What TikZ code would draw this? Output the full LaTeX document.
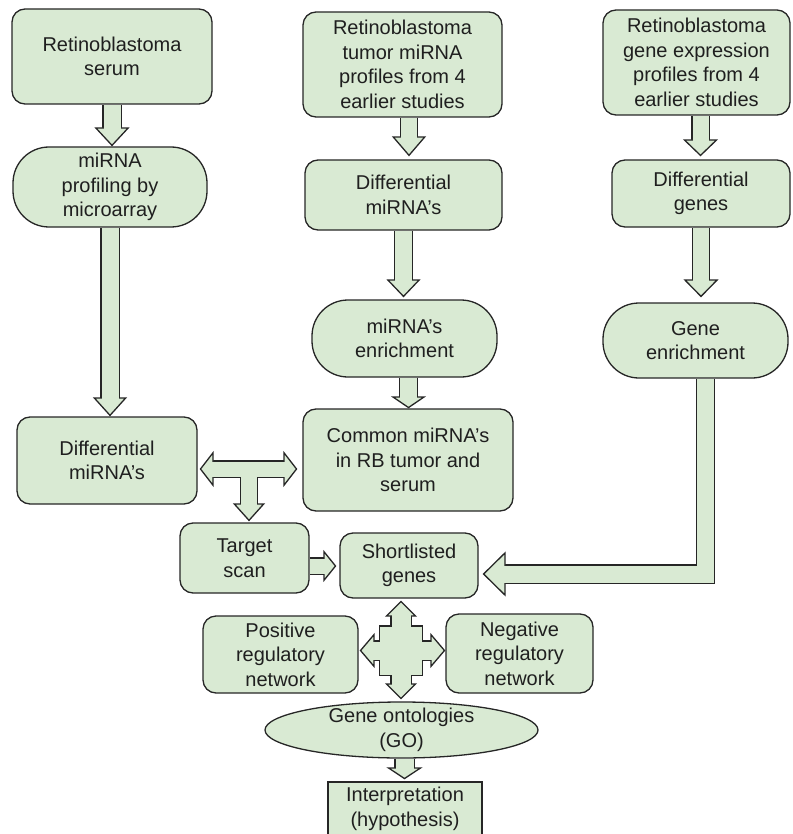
\documentclass[tikz,border=0pt]{standalone}
\usepackage{fontspec}
\setmainfont{Liberation Sans}
\usetikzlibrary{arrows.meta,shapes.geometric,backgrounds}
\definecolor{boxfill}{HTML}{D9EAD3}
\definecolor{linec}{HTML}{262626}
\definecolor{textc}{HTML}{1F1F1F}
\tikzset{
  box/.style={draw=linec, fill=boxfill, line width=1.3pt, rounded corners=13pt,
    align=center, inner sep=0pt, text=textc, font=\fontsize{20}{24.5}\selectfont},
  pill/.style={box, rounded corners=36pt},
  oval/.style={box, sharp corners, ellipse, inner ysep=-4pt},
  plainbox/.style={box, sharp corners},
  blkout/.style n args={3}{draw=linec, line width=#1, line join=miter,
    -{Triangle[width=#2, length=#3, line width=1.3pt, fill=boxfill]}},
  blkboth/.style n args={3}{draw=linec, line width=#1, line join=miter,
    arrows={Triangle[width=#2, length=#3, line width=1.3pt, fill=boxfill]-Triangle[width=#2, length=#3, line width=1.3pt, fill=boxfill]}},
  blkin/.style={draw=boxfill, line width=#1, line join=miter},
}

\begin{document}
\begin{tikzpicture}[x=1pt,y=-1pt]
\useasboundingbox (0,0) rectangle (792,834);
\node (serum)   at (112,56.5)  [box, minimum width=200pt, minimum height=95pt] {Retinoblastoma\\serum};
\node (miprof)  at (110,187)   [pill, minimum width=194pt, minimum height=80pt] {miRNA\\profiling by\\microarray};
\node (diffL)   at (107,460.5) [box, minimum width=180pt, minimum height=87pt] {Differential\\miRNA’s};
\node (tumor)   at (402.5,64.5) [box, minimum width=199pt, minimum height=105pt] {Retinoblastoma\\tumor miRNA\\profiles from 4\\earlier studies};
\node (diffM)   at (403.5,195) [box, minimum width=197pt, minimum height=70pt] {Differential\\miRNA’s};
\node (mienr)   at (404.5,338.5) [pill, minimum width=185pt, minimum height=77pt] {miRNA’s\\enrichment};
\node (common)  at (408,460)   [box, minimum width=210pt, minimum height=102pt] {Common miRNA’s\\in RB tumor and\\serum};
\node (geneexp) at (696.5,62.5) [box, minimum width=187pt, minimum height=105pt] {Retinoblastoma\\gene expression\\profiles from 4\\earlier studies};
\node (diffG)   at (701,193.5) [box, minimum width=178pt, minimum height=67pt] {Differential\\genes};
\node (geneenr) at (695.5,340.5) [pill, minimum width=185pt, minimum height=75pt] {Gene\\enrichment};
\node (target)  at (244.5,558) [box, minimum width=129pt, minimum height=70pt] {Target\\scan};
\node (short)   at (409,565.5) [box, minimum width=138pt, minimum height=65pt] {Shortlisted\\genes};
\node (pos)     at (280.5,654.5) [box, minimum width=155pt, minimum height=77pt] {Positive\\regulatory\\network};
\node (neg)     at (519.5,653.5) [box, minimum width=147pt, minimum height=79pt] {Negative\\regulatory\\network};
\node (go)      at (401.5,730) [oval, minimum width=273pt, minimum height=56pt] {Gene ontologies\\(GO)};
\node (interp)  at (405,809)   [plainbox, minimum width=154pt, minimum height=54pt] {Interpretation\\(hypothesis)};

\coordinate (tumorout) at ([xshift=6.5pt]tumor.south);
\coordinate (mienrout) at ([xshift=4pt]mienr.south);
\coordinate (geneout)  at ([xshift=4pt]geneexp.south);
\coordinate (enrout)   at ([xshift=10pt]geneenr.south);
\coordinate (shortin)  at ([xshift=4pt,yshift=-8.5pt]short.east);
\coordinate (scanout)  at ([yshift=-8pt]target.east);
\coordinate (goout)    at ([xshift=3pt]go.south);
\coordinate (tj) at (249,469);
\coordinate (qc) at (401,650.5);

\begin{scope}[on background layer]
\draw [blkout={19.6pt}{35pt}{19pt}] (serum.south) -- (serum.south |- miprof.north);
\draw [blkout={19.6pt}{34pt}{19pt}] (miprof.south) -- (miprof.south |- diffL.north);
\draw [blkout={18.6pt}{34pt}{20pt}, shorten >=3pt] (tumorout) -- (tumorout |- diffM.north);
\draw [blkout={19.6pt}{34pt}{18pt}, shorten >=2pt] (diffM.south) -- (diffM.south |- mienr.north);
\draw [blkout={19.6pt}{35pt}{12pt}] (mienrout) -- (mienrout |- common.north);
\draw [blkout={18.6pt}{35pt}{17pt}, shorten >=3pt] (geneout) -- (geneout |- diffG.north);
\draw [blkout={18.6pt}{35pt}{18pt}, shorten >=5pt] (diffG.south) -- (diffG.south |- geneenr.north);
\draw [blkout={19.6pt}{45pt}{23pt}] (enrout) |- (shortin);
\draw [blkboth={17.6pt}{36pt}{14pt}, shorten <=2pt, shorten >=5pt] (tj -| diffL.east) -- (tj -| common.west);
\draw [blkout={18.6pt}{32pt}{18pt}, shorten >=1pt] (tj) -- (tj |- target.north);
\draw [blkout={17.6pt}{32pt}{13pt}, shorten >=3pt] (scanout) -- (scanout -| short.west);
\draw [blkboth={21.6pt}{32pt}{16pt}, shorten <=2pt, shorten >=2pt] (qc |- short.south) -- (qc |- go.north);
\draw [blkboth={20.6pt}{35pt}{15pt}, shorten <=1pt] (qc -| pos.east) -- (qc -| neg.west);
\draw [draw=linec, line width=44.6pt] ([yshift=25.3pt]qc) -- ([yshift=-25.3pt]qc);
\draw [blkout={20.6pt}{36pt}{12pt}, shorten >=2pt] (goout) -- (goout |- interp.north);

\draw [blkin=17pt, shorten >=17.5pt] (serum.south) -- (serum.south |- miprof.north);
\draw [blkin=17pt, shorten >=17.5pt] (miprof.south) -- (miprof.south |- diffL.north);
\draw [blkin=16pt, shorten >=21.5pt] (tumorout) -- (tumorout |- diffM.north);
\draw [blkin=17pt, shorten >=18.5pt] (diffM.south) -- (diffM.south |- mienr.north);
\draw [blkin=17pt, shorten >=10.5pt] (mienrout) -- (mienrout |- common.north);
\draw [blkin=16pt, shorten >=18.5pt] (geneout) -- (geneout |- diffG.north);
\draw [blkin=16pt, shorten >=21.5pt] (diffG.south) -- (diffG.south |- geneenr.north);
\draw [blkin=17pt, shorten >=21.5pt] (enrout) |- (shortin);
\draw [blkin=15pt, shorten <=14.5pt, shorten >=17.5pt] (tj -| diffL.east) -- (tj -| common.west);
\draw [blkin=16pt, shorten >=17.5pt] (tj) -- (tj |- target.north);
\draw [blkin=15pt, shorten >=14.5pt] (scanout) -- (scanout -| short.west);
\draw [blkin=19pt, shorten <=16.5pt, shorten >=16.5pt] (qc |- short.south) -- (qc |- go.north);
\draw [blkin=18pt, shorten <=14.5pt, shorten >=13.5pt] (qc -| pos.east) -- (qc -| neg.west);
\draw [draw=boxfill, line width=42pt] ([yshift=24pt]qc) -- ([yshift=-24pt]qc);
\draw [blkin=18pt, shorten >=12.5pt] (goout) -- (goout |- interp.north);
\end{scope}
\end{tikzpicture}
\end{document}
